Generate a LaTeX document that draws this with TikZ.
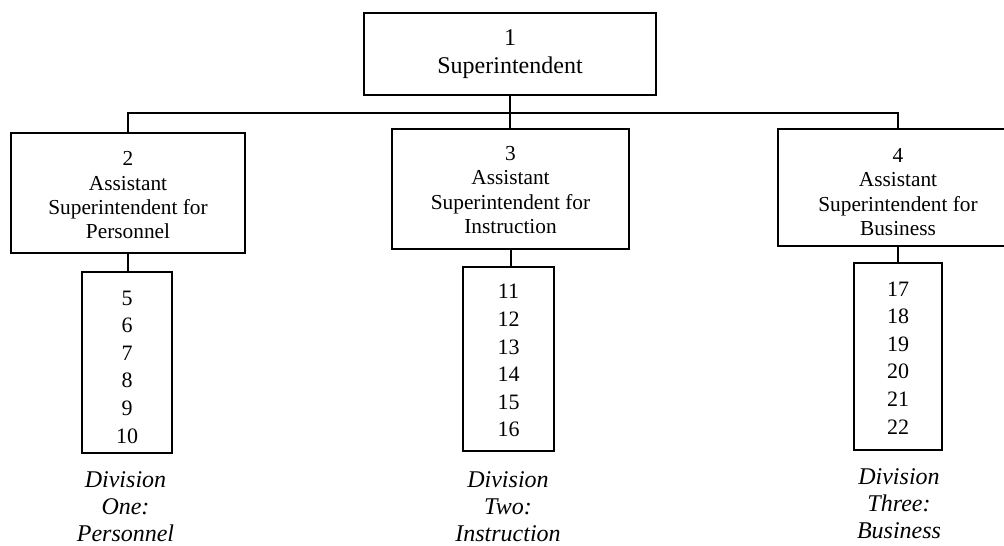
\documentclass[tikz,border=0pt]{standalone}
\usepackage{fontspec}
\setmainfont{Liberation Serif}
\newcommand\lowtext[2]{\raisebox{-#1}[\height][\depth]{\begin{tabular}{@{}c@{}}#2\end{tabular}}}
\begin{document}
\begin{tikzpicture}[x=0.75pt,y=-0.75pt,
  box/.style={draw, line width=1.5pt, inner sep=0pt},
  topfont/.style={font=\fontsize{18}{21}\selectfont},
  midfont/.style={font=\fontsize{16}{18.25}\selectfont},
  listfont/.style={font=\fontsize{16.5}{20.7}\selectfont},
  lbl/.style={inner sep=0pt, font=\fontsize{18}{20.25}\selectfont\itshape},
  conn/.style={line width=1.5pt}]
\useasboundingbox (0,0) rectangle (1004,546);
\clip (0,0) rectangle (1004,546);
% boxes
\node[box, topfont, minimum width=219pt, minimum height=61.5pt] (b1) at (510,54) {\lowtext{0pt}{1\\Superintendent}};
\node[box, midfont, minimum width=175.5pt, minimum height=90pt] (b2) at (128,193) {\lowtext{3.4pt}{2\\Assistant\\Superintendent for\\Personnel}};
\node[box, midfont, minimum width=177.75pt, minimum height=90pt] (b3) at (510.5,189) {\lowtext{2.3pt}{3\\Assistant\\Superintendent for\\Instruction}};
\node[box, midfont, minimum width=180pt, minimum height=87.75pt] (b4) at (898,187.5) {\lowtext{4.9pt}{4\\Assistant\\Superintendent for\\Business}};
% lists
\node[box, listfont, minimum width=67.5pt, minimum height=135.75pt] (l1) at (127,362.5) {\lowtext{4.5pt}{5\\6\\7\\8\\9\\10}};
\node[box, listfont, minimum width=68.25pt, minimum height=138pt] (l2) at (508.5,359) {\lowtext{2.6pt}{11\\12\\13\\14\\15\\16}};
\node[box, listfont, minimum width=66pt, minimum height=140.25pt] (l3) at (898,356.5) {\lowtext{2.3pt}{17\\18\\19\\20\\21\\22}};
% labels
\node[lbl] (d1) at (125.5,508.6) {\lowtext{0pt}{Division\\One:\\Personnel}};
\node[lbl] (d2) at (508,508.6) {\lowtext{0pt}{Division\\Two:\\Instruction}};
\node[lbl] (d3) at (899,505.6) {\lowtext{0pt}{Division\\Three:\\Business}};
% connectors
\coordinate (bus) at (510,113);
\draw[conn] (b1.south) -- (b1.south |- b3.north);
\draw[conn] (b2.north) -- (b2.north |- bus) -- (b4.north |- bus) -- (b4.north);
\draw[conn] (b2.south) -- (b2.south |- l1.north);
\draw[conn] (b3.south) -- (b3.south |- l2.north);
\draw[conn] (b4.south) -- (b4.south |- l3.north);
\end{tikzpicture}
\end{document}
